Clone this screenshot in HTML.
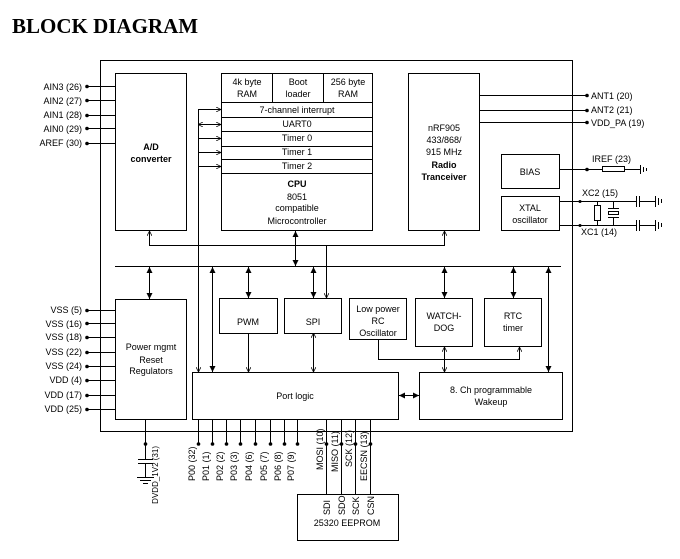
<!DOCTYPE html>
<html><head><meta charset="utf-8"><style>
html,body{margin:0;padding:0;background:#fff;width:680px;height:559px;overflow:hidden}
svg{display:block}
text{font-family:"Liberation Sans",Arial,sans-serif;font-size:9px;fill:#000}
.t{font-family:"Liberation Serif",serif;font-weight:bold;font-size:21px}
.b{font-weight:bold}
</style></head><body>
<svg width="680" height="559" viewBox="0 0 680 559" xmlns="http://www.w3.org/2000/svg">
<defs>
<marker id="a" viewBox="0 0 10 10" refX="10" refY="5" markerWidth="6" markerHeight="6" orient="auto-start-reverse"><path d="M0,0 L10,5 L0,10 z" fill="#000"/></marker>
<marker id="o" viewBox="0 0 10 10" refX="10" refY="5" markerWidth="5" markerHeight="5" orient="auto-start-reverse"><path d="M0,0 L10,5 L0,10" fill="none" stroke="#000" stroke-width="1.5"/></marker>
</defs>
<text x="12" y="33" class="t">BLOCK DIAGRAM</text>
<g fill="none" stroke="#000" stroke-width="1">
<rect x="100.5" y="60.5" width="472" height="371"/>
<rect x="115.5" y="73.5" width="71" height="157"/>
<rect x="221.5" y="73.5" width="151" height="157"/>
<line x1="221" y1="102.5" x2="372" y2="102.5"/><line x1="221" y1="117.5" x2="372" y2="117.5"/><line x1="221" y1="131.5" x2="372" y2="131.5"/><line x1="221" y1="146.5" x2="372" y2="146.5"/><line x1="221" y1="159.5" x2="372" y2="159.5"/><line x1="221" y1="173.5" x2="372" y2="173.5"/>
<line x1="272.5" y1="73" x2="272.5" y2="102"/><line x1="323.5" y1="73" x2="323.5" y2="102"/>
<rect x="408.5" y="73.5" width="71" height="157"/>
<rect x="501.5" y="154.5" width="58" height="34"/>
<rect x="501.5" y="196.5" width="58" height="34"/>
<rect x="115.5" y="299.5" width="71" height="120"/>
<rect x="219.5" y="298.5" width="58" height="35"/>
<rect x="284.5" y="298.5" width="57" height="35"/>
<rect x="349.5" y="298.5" width="57" height="41"/>
<rect x="415.5" y="298.5" width="57" height="48"/>
<rect x="484.5" y="298.5" width="57" height="48"/>
<rect x="192.5" y="372.5" width="206" height="47"/>
<rect x="419.5" y="372.5" width="143" height="47"/>
<rect x="297.5" y="494.5" width="101" height="46"/>
<line x1="115" y1="266.5" x2="561" y2="266.5"/>
<polyline points="149.5,231 149.5,245.5 444.5,245.5 444.5,231" marker-start="url(#o)" marker-end="url(#o)"/>
<line x1="295.5" y1="231" x2="295.5" y2="266" marker-start="url(#a)" marker-end="url(#a)"/>
<line x1="326.5" y1="245" x2="326.5" y2="298" marker-end="url(#o)"/>
<line x1="198.5" y1="109.5" x2="198.5" y2="372" marker-end="url(#o)"/>
<line x1="198" y1="109.5" x2="221" y2="109.5" marker-end="url(#o)"/>
<line x1="198" y1="124.5" x2="221" y2="124.5" marker-start="url(#o)" marker-end="url(#o)"/>
<line x1="198" y1="138.5" x2="221" y2="138.5" marker-end="url(#o)"/>
<line x1="198" y1="152.5" x2="221" y2="152.5" marker-end="url(#o)"/>
<line x1="198" y1="166.5" x2="221" y2="166.5" marker-end="url(#o)"/>
<line x1="212.5" y1="372" x2="212.5" y2="267" marker-start="url(#a)" marker-end="url(#a)"/>
<line x1="149.5" y1="267" x2="149.5" y2="299" marker-start="url(#a)" marker-end="url(#a)"/>
<line x1="248.5" y1="267" x2="248.5" y2="298" marker-start="url(#a)" marker-end="url(#a)"/>
<line x1="313.5" y1="267" x2="313.5" y2="298" marker-start="url(#a)" marker-end="url(#a)"/>
<line x1="444.5" y1="267" x2="444.5" y2="298" marker-start="url(#a)" marker-end="url(#a)"/>
<line x1="513.5" y1="267" x2="513.5" y2="298" marker-start="url(#a)" marker-end="url(#a)"/>
<line x1="548.5" y1="267" x2="548.5" y2="372" marker-start="url(#a)" marker-end="url(#a)"/>
<line x1="248.5" y1="333" x2="248.5" y2="372" marker-end="url(#o)"/>
<line x1="313.5" y1="333" x2="313.5" y2="372" marker-start="url(#o)" marker-end="url(#o)"/>
<polyline points="378.5,339 378.5,359.5 519.5,359.5 519.5,347" marker-end="url(#o)"/>
<line x1="444.5" y1="359" x2="444.5" y2="347" marker-end="url(#o)"/>
<line x1="444.5" y1="359" x2="444.5" y2="372" marker-end="url(#o)"/>
<line x1="399" y1="395.5" x2="419" y2="395.5" marker-start="url(#a)" marker-end="url(#a)"/>
<g>
<line x1="87" y1="86.5" x2="115" y2="86.5"/><line x1="87" y1="100.5" x2="115" y2="100.5"/><line x1="87" y1="115.5" x2="115" y2="115.5"/><line x1="87" y1="128.5" x2="115" y2="128.5"/><line x1="87" y1="143.5" x2="115" y2="143.5"/>
<line x1="87" y1="310.5" x2="115" y2="310.5"/><line x1="87" y1="323.5" x2="115" y2="323.5"/><line x1="87" y1="337.5" x2="115" y2="337.5"/><line x1="87" y1="352.5" x2="115" y2="352.5"/><line x1="87" y1="366.5" x2="115" y2="366.5"/><line x1="87" y1="380.5" x2="115" y2="380.5"/><line x1="87" y1="395.5" x2="115" y2="395.5"/><line x1="87" y1="409.5" x2="115" y2="409.5"/>
</g>
<line x1="479" y1="95.5" x2="587" y2="95.5"/><line x1="479" y1="110.5" x2="587" y2="110.5"/><line x1="479" y1="122.5" x2="587" y2="122.5"/>
<line x1="560" y1="169.5" x2="602" y2="169.5"/><rect x="602.5" y="166.5" width="22" height="5"/><line x1="624" y1="169.5" x2="640" y2="169.5"/>
<line x1="640.5" y1="165" x2="640.5" y2="174"/><line x1="643.5" y1="167" x2="643.5" y2="172"/><line x1="646.5" y1="168" x2="646.5" y2="171"/>
<line x1="560" y1="201.5" x2="636" y2="201.5"/><line x1="560" y1="225.5" x2="636" y2="225.5"/>
<line x1="636.5" y1="196" x2="636.5" y2="207"/><line x1="639.5" y1="196" x2="639.5" y2="207"/><line x1="639" y1="201.5" x2="655" y2="201.5"/>
<line x1="636.5" y1="220" x2="636.5" y2="231"/><line x1="639.5" y1="220" x2="639.5" y2="231"/><line x1="639" y1="225.5" x2="655" y2="225.5"/>
<line x1="655.5" y1="196" x2="655.5" y2="207"/><line x1="658.5" y1="198" x2="658.5" y2="205"/><line x1="661.5" y1="199" x2="661.5" y2="203"/>
<line x1="655.5" y1="220" x2="655.5" y2="231"/><line x1="658.5" y1="222" x2="658.5" y2="229"/><line x1="661.5" y1="223" x2="661.5" y2="227"/>
<line x1="597.5" y1="201" x2="597.5" y2="225"/><rect x="594.5" y="205.5" width="6" height="15" fill="#fff"/>
<line x1="613.5" y1="201" x2="613.5" y2="208"/><line x1="613.5" y1="218" x2="613.5" y2="225"/><line x1="608" y1="208.5" x2="619" y2="208.5"/><rect x="608.5" y="211.5" width="10" height="3"/><line x1="608" y1="217.5" x2="619" y2="217.5"/>
<line x1="145.5" y1="419" x2="145.5" y2="459"/><line x1="138" y1="459.5" x2="153" y2="459.5"/><line x1="138" y1="463.5" x2="153" y2="463.5"/><line x1="145.5" y1="464" x2="145.5" y2="477"/>
<line x1="137" y1="477.5" x2="154" y2="477.5"/><line x1="140" y1="480.5" x2="151" y2="480.5"/><line x1="143" y1="483.5" x2="148" y2="483.5"/>
<line x1="198.5" y1="419" x2="198.5" y2="444"/><line x1="212.5" y1="419" x2="212.5" y2="444"/><line x1="226.5" y1="419" x2="226.5" y2="444"/><line x1="240.5" y1="419" x2="240.5" y2="444"/><line x1="255.5" y1="419" x2="255.5" y2="444"/><line x1="270.5" y1="419" x2="270.5" y2="444"/><line x1="284.5" y1="419" x2="284.5" y2="444"/><line x1="297.5" y1="419" x2="297.5" y2="444"/>
<line x1="326.5" y1="419" x2="326.5" y2="494"/><line x1="341.5" y1="419" x2="341.5" y2="494"/><line x1="355.5" y1="419" x2="355.5" y2="494"/><line x1="370.5" y1="419" x2="370.5" y2="494"/>
</g>
<g fill="#000">
<circle cx="87" cy="86.5" r="1.8"/><circle cx="87" cy="100.5" r="1.8"/><circle cx="87" cy="115.5" r="1.8"/><circle cx="87" cy="128.5" r="1.8"/><circle cx="87" cy="143.5" r="1.8"/>
<circle cx="87" cy="310.5" r="1.8"/><circle cx="87" cy="323.5" r="1.8"/><circle cx="87" cy="337.5" r="1.8"/><circle cx="87" cy="352.5" r="1.8"/><circle cx="87" cy="366.5" r="1.8"/><circle cx="87" cy="380.5" r="1.8"/><circle cx="87" cy="395.5" r="1.8"/><circle cx="87" cy="409.5" r="1.8"/>
<circle cx="587" cy="95.5" r="1.8"/><circle cx="587" cy="110.5" r="1.8"/><circle cx="587" cy="122.5" r="1.8"/><circle cx="587" cy="169.5" r="1.8"/><circle cx="580" cy="201.5" r="1.5"/><circle cx="580" cy="225.5" r="1.5"/>
<circle cx="145.5" cy="444" r="1.8"/>
<circle cx="198.5" cy="444" r="1.8"/><circle cx="212.5" cy="444" r="1.8"/><circle cx="226.5" cy="444" r="1.8"/><circle cx="240.5" cy="444" r="1.8"/><circle cx="255.5" cy="444" r="1.8"/><circle cx="270.5" cy="444" r="1.8"/><circle cx="284.5" cy="444" r="1.8"/><circle cx="297.5" cy="444" r="1.8"/>
<circle cx="326.5" cy="444" r="1.8"/><circle cx="341.5" cy="444" r="1.8"/><circle cx="355.5" cy="444" r="1.8"/><circle cx="370.5" cy="444" r="1.8"/>
</g>
<g text-anchor="end">
<text x="82" y="90">AIN3 (26)</text><text x="82" y="104">AIN2 (27)</text><text x="82" y="118">AIN1 (28)</text><text x="82" y="132">AIN0 (29)</text><text x="82" y="146">AREF (30)</text>
<text x="82" y="313">VSS (5)</text><text x="82" y="327">VSS (16)</text><text x="82" y="340">VSS (18)</text><text x="82" y="355">VSS (22)</text><text x="82" y="369">VSS (24)</text><text x="82" y="383">VDD (4)</text><text x="82" y="398">VDD (17)</text><text x="82" y="412">VDD (25)</text>
</g>
<text x="591" y="99">ANT1 (20)</text><text x="591" y="113">ANT2 (21)</text><text x="591" y="126">VDD_PA (19)</text>
<text x="592" y="162">IREF (23)</text><text x="582" y="196">XC2 (15)</text><text x="581" y="235">XC1 (14)</text>
<g text-anchor="middle">
<text x="151" y="150" class="b">A/D</text><text x="151" y="162" class="b">converter</text>
<text x="247" y="85">4k byte</text><text x="247" y="97">RAM</text>
<text x="298" y="85">Boot</text><text x="298" y="97">loader</text>
<text x="348" y="85">256 byte</text><text x="348" y="97">RAM</text>
<text x="297" y="113">7-channel interrupt</text><text x="297" y="127">UART0</text><text x="297" y="141">Timer 0</text><text x="297" y="155">Timer 1</text><text x="297" y="169">Timer 2</text>
<text x="297" y="187" class="b">CPU</text><text x="297" y="200">8051</text><text x="297" y="211">compatible</text><text x="297" y="224">Microcontroller</text>
<text x="444" y="131">nRF905</text><text x="444" y="143">433/868/</text><text x="444" y="155">915 MHz</text><text x="444" y="168" class="b">Radio</text><text x="444" y="180" class="b">Tranceiver</text>
<text x="530" y="175">BIAS</text><text x="530" y="211">XTAL</text><text x="530" y="223">oscillator</text>
<text x="151" y="350">Power mgmt</text><text x="151" y="363">Reset</text><text x="151" y="374">Regulators</text>
<text x="248" y="325">PWM</text><text x="313" y="325">SPI</text>
<text x="378" y="312">Low power</text><text x="378" y="324">RC</text><text x="378" y="336">Oscillator</text>
<text x="444" y="319">WATCH-</text><text x="444" y="331">DOG</text>
<text x="513" y="319">RTC</text><text x="513" y="331">timer</text>
<text x="295" y="399">Port logic</text>
<text x="491" y="393">8. Ch programmable</text><text x="491" y="405">Wakeup</text>
<text x="347" y="526">25320 EEPROM</text>
</g>
<g>
<text transform="translate(158,446) rotate(-90)" text-anchor="end" style="font-size:8px">DVDD_1V2 (31)</text>
<text transform="translate(195,481) rotate(-90)">P00 (32)</text>
<text transform="translate(209,481) rotate(-90)">P01 (1)</text>
<text transform="translate(223,481) rotate(-90)">P02 (2)</text>
<text transform="translate(237,481) rotate(-90)">P03 (3)</text>
<text transform="translate(252,481) rotate(-90)">P04 (6)</text>
<text transform="translate(267,481) rotate(-90)">P05 (7)</text>
<text transform="translate(281,481) rotate(-90)">P06 (8)</text>
<text transform="translate(294,481) rotate(-90)">P07 (9)</text>
<text transform="translate(323,470) rotate(-90)">MOSI (10)</text>
<text transform="translate(338,472) rotate(-90)">MISO (11)</text>
<text transform="translate(352,467) rotate(-90)">SCK (12)</text>
<text transform="translate(367,481) rotate(-90)">EECSN (13)</text>
<text transform="translate(330,515) rotate(-90)">SDI</text>
<text transform="translate(345,515) rotate(-90)">SDO</text>
<text transform="translate(359,515) rotate(-90)">SCK</text>
<text transform="translate(374,515) rotate(-90)">CSN</text>
</g>
</svg>
</body></html>
